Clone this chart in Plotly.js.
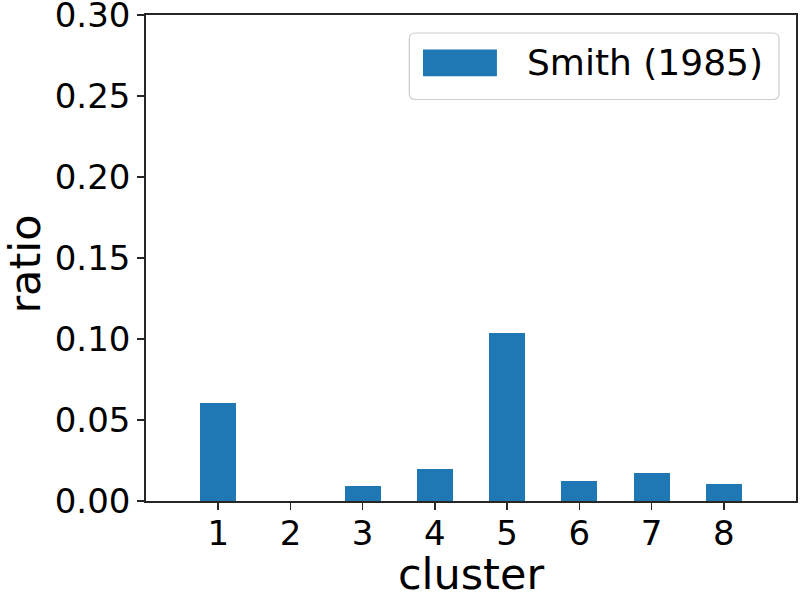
<!DOCTYPE html>
<html>
<head>
<meta charset="utf-8">
<script src="https://cdn.plot.ly/plotly-3.0.1.min.js"></script>
<style>html,body{margin:0;padding:0;background:#fff;}#chart{width:800px;height:599px;}</style>
</head>
<body>
<div id="chart"></div>
<script>
const clusters = [1, 2, 3, 4, 5, 6, 7, 8];
const ratios = [0.0605, 0.0, 0.0093, 0.0197, 0.1036, 0.0123, 0.0173, 0.0108];
const seriesName = "Smith (1985)";
const yTicks = [0, 0.05, 0.10, 0.15, 0.20, 0.25, 0.30];
const xTitle = "cluster";
const yTitle = "ratio";

const barColor = "#1f77b4";
const font = "DejaVu Sans";

const trace = {
  type: "bar",
  x: clusters,
  y: ratios,
  width: 0.5,
  name: seriesName,
  marker: {color: barColor, line: {width: 0}},
  showlegend: false,
  hoverinfo: "x+y"
};

// manual matplotlib-like legend (paper coords)
const W = 800, H = 599;
const mL = 145.5, mR = 4, mT = 14.7, mB = 97.7;
const pw = W - mL - mR, ph = H - mT - mB;
const px = v => (v - mL) / pw;
const py = v => 1 - (v - mT) / ph;

const bx0 = px(409), bx1 = px(779), by0 = py(99.3), by1 = py(32.7);
const r = 6;
const rx = r / pw, ry = r / ph;
const legendPath = `M ${bx0+rx},${by1} L ${bx1-rx},${by1} Q ${bx1},${by1} ${bx1},${by1-ry} L ${bx1},${by0+ry} Q ${bx1},${by0} ${bx1-rx},${by0} L ${bx0+rx},${by0} Q ${bx0},${by0} ${bx0},${by0+ry} L ${bx0},${by1-ry} Q ${bx0},${by1} ${bx0+rx},${by1} Z`;

const layout = {
  width: W, height: H,
  margin: {l: mL, r: mR, t: mT, b: mB, pad: 0},
  paper_bgcolor: "#fff",
  plot_bgcolor: "#fff",
  font: {family: font, color: "#000", size: 34},
  showlegend: false,
  bargap: 0,
  xaxis: {
    range: [0, 9],
    tickmode: "array",
    tickvals: clusters,
    ticktext: clusters.map(String),
    ticks: "outside", ticklen: 7, tickwidth: 1.6, tickcolor: "#262626",
    ticklabelstandoff: -6,
    ticklabeloverflow: "allow",
    showline: true, linecolor: "#262626", linewidth: 1.8, mirror: true,
    showgrid: false, zeroline: false,
    tickfont: {family: font, size: 34, color: "#000"},
    title: {text: xTitle, font: {family: font, size: 43, color: "#000"}, standoff: 14}
  },
  yaxis: {
    range: [0, 0.30],
    tickmode: "array",
    tickvals: yTicks,
    ticktext: yTicks.map(v => v.toFixed(2)),
    ticks: "outside", ticklen: 7, tickwidth: 1.6, tickcolor: "#262626",
    ticklabeloverflow: "allow",
    showline: true, linecolor: "#262626", linewidth: 1.8, mirror: true,
    showgrid: false, zeroline: false,
    tickfont: {family: font, size: 34, color: "#000"}
  },
  shapes: [
    {type: "path", xref: "paper", yref: "paper", path: legendPath,
     fillcolor: "rgba(255,255,255,0.8)", line: {color: "#cccccc", width: 1.2}},
    {type: "rect", xref: "paper", yref: "paper",
     x0: px(422.7), x1: px(496.7), y0: py(76), y1: py(49.3),
     fillcolor: barColor, line: {width: 0}}
  ],
  annotations: [
    {xref: "paper", yref: "paper", x: px(525), y: py(62.5),
     xanchor: "left", yanchor: "middle", showarrow: false,
     text: seriesName, font: {family: font, size: 36, color: "#000"}},
    {xref: "paper", yref: "paper", x: px(24), y: py(264),
     xanchor: "center", yanchor: "middle", showarrow: false, textangle: -90,
     text: yTitle, font: {family: font, size: 43, color: "#000"}}
  ]
};

Plotly.newPlot("chart", [trace], layout, {staticPlot: true, displayModeBar: false});
</script>
</body>
</html>
